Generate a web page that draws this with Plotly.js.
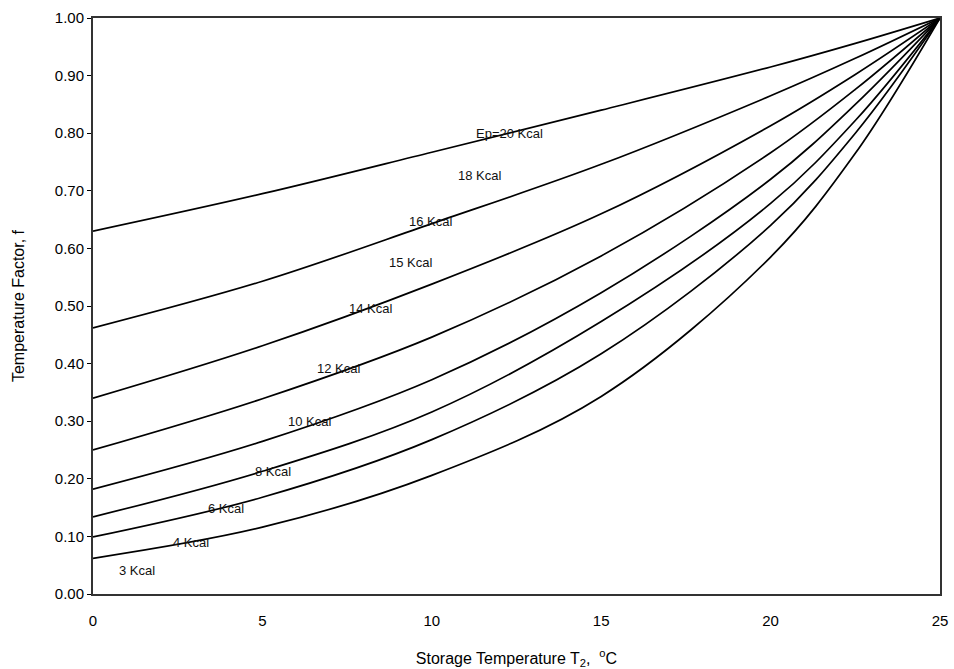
<!DOCTYPE html>
<html>
<head>
<meta charset="utf-8">
<script src="https://cdn.plot.ly/plotly-3.0.1.min.js"></script>
<style>html,body{margin:0;padding:0;background:#fff;}#chart{width:954px;height:669px;}</style>
</head>
<body>
<div id="chart"></div>
<script>
// Storage temperature (°C)
var temps = [0, 5, 10, 15, 20, 22.5, 25];
// Temperature factor f for each curve (top to bottom)
var curve1 = [0.630, 0.695, 0.767, 0.840, 0.915, 0.956, 1.00];
var curve2 = [0.462, 0.543, 0.643, 0.746, 0.865, 0.930, 1.00];
var curve3 = [0.340, 0.431, 0.538, 0.660, 0.813, 0.902, 1.00];
var curve4 = [0.250, 0.339, 0.446, 0.587, 0.766, 0.876, 1.00];
var curve5 = [0.182, 0.265, 0.372, 0.523, 0.720, 0.850, 1.00];
var curve6 = [0.134, 0.213, 0.316, 0.473, 0.678, 0.822, 1.00];
var curve7 = [0.099, 0.168, 0.268, 0.417, 0.640, 0.800, 1.00];
var curve8 = [0.062, 0.116, 0.206, 0.343, 0.585, 0.765, 1.00];
var curves = [curve1, curve2, curve3, curve4, curve5, curve6, curve7, curve8];

// Curve labels and their positions
var labelText = ["Ep=20 Kcal", "18 Kcal", "16 Kcal", "15 Kcal", "14 Kcal", "12 Kcal", "10 Kcal", "8 Kcal", "6 Kcal", "4 Kcal", "3 Kcal"];
var labelX = [12.28, 11.42, 9.95, 9.36, 8.2, 7.26, 6.4, 5.31, 3.93, 2.9, 1.3];
var labelY = [0.800, 0.726, 0.646, 0.575, 0.495, 0.392, 0.299, 0.212, 0.149, 0.089, 0.040];

var yTicks = [0, 0.1, 0.2, 0.3, 0.4, 0.5, 0.6, 0.7, 0.8, 0.9, 1.0];
var yTickText = ["0.00","0.10","0.20","0.30","0.40","0.50","0.60","0.70","0.80","0.90","1.00"];
var xTicks = [0, 5, 10, 15, 20, 25];

var traces = curves.map(function (c) {
  return {
    x: temps, y: c, type: 'scatter', mode: 'lines',
    line: {color: '#000', width: 1.7, shape: 'spline', smoothing: 1},
    hoverinfo: 'skip', showlegend: false
  };
});

var annotations = labelText.map(function (t, i) {
  return {
    x: labelX[i], y: labelY[i], xref: 'x', yref: 'y', text: t,
    showarrow: false, font: {family: 'Liberation Sans, Arial, sans-serif', size: 13, color: '#111'}
  };
});

var layout = {
  width: 954, height: 669,
  margin: {l: 93, r: 14, t: 18, b: 75},
  paper_bgcolor: '#fff', plot_bgcolor: '#fff',
  font: {family: 'Liberation Sans, Arial, sans-serif', size: 15, color: '#000'},
  xaxis: {
    range: [0, 25], tickvals: xTicks, ticktext: xTicks.map(String),
    showgrid: false, zeroline: false,
    showline: true, linecolor: '#333', linewidth: 2, mirror: true,
    ticks: '', tickfont: {size: 15}, ticklabelstandoff: 12,
    automargin: false,
    title: {text: 'Storage Temperature T<sub>2</sub>,\u00A0\u00A0<sup>o</sup>C', font: {size: 16}, standoff: 29}
  },
  yaxis: {
    range: [0, 1.0], tickvals: yTicks, ticktext: yTickText,
    showgrid: false, zeroline: false,
    showline: true, linecolor: '#333', linewidth: 2, mirror: true,
    ticks: 'outside', ticklen: 4, tickcolor: '#000', tickfont: {size: 15},
    automargin: false,
    title: {text: 'Temperature Factor, f', font: {size: 16}, standoff: 26}
  },
  annotations: annotations
};

Plotly.newPlot('chart', traces, layout, {staticPlot: true, displayModeBar: false});
</script>
</body>
</html>
